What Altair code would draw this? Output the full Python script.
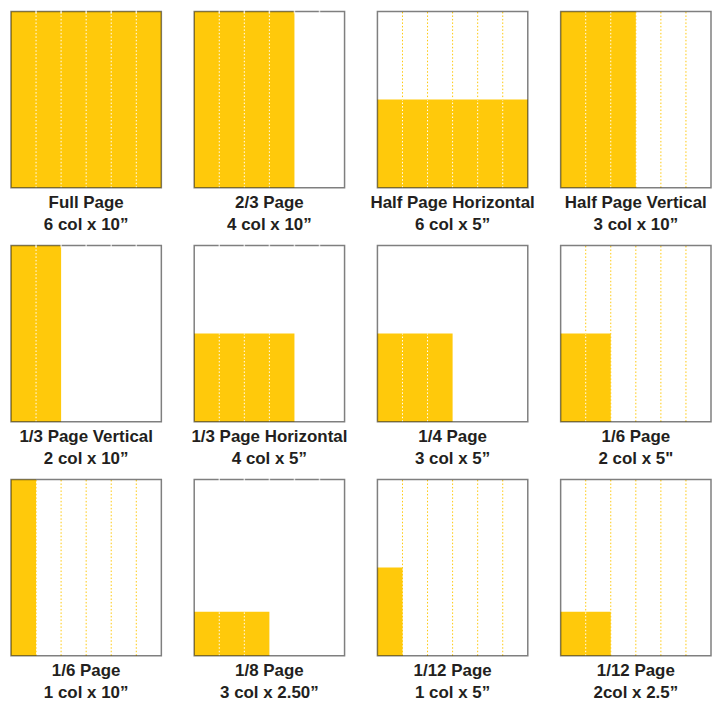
import altair as alt
import pandas as pd

# ---- data ----
titles = ["Full Page", "2/3 Page", "Half Page Horizontal", "Half Page Vertical",
          "1/3 Page Vertical", "1/3 Page Horizontal", "1/4 Page", "1/6 Page",
          "1/6 Page", "1/8 Page", "1/12 Page", "1/12 Page"]
sizes = ["6 col x 10\u201d", "4 col x 10\u201d", "6 col x 5\u201d", "3 col x 10\u201d",
         "2 col x 10\u201d", "4 col x 5\u201d", "3 col x 5\u201d", "2 col x 5\"",
         "1 col x 10\u201d", "3 col x 2.50\u201d", "1 col x 5\u201d", "2col x 2.5\u201d"]
ad_cols = [6, 4, 6, 3, 2, 4, 3, 2, 1, 3, 1, 2]
ad_inches = [10, 10, 5, 10, 10, 5, 5, 5, 10, 2.5, 5, 2.5]
guide_style = ["gaps", "gaps", "yellow", "yellow", "gaps", "gaps", "plain", "yellow",
               "yellow", "gaps", "yellow", "yellow"]
column_lines = [1, 2, 3, 4, 5]
page_cols = 6
page_inches = 10

YELLOW = "#FFC90B"
W, H = 151, 177

rows = []
for i in range(len(titles)):
    rows.append(dict(panel=i, kind="panel", label=titles[i] + "\n" + sizes[i],
                     x0=0, cols=ad_cols[i], y0=0, inches=ad_inches[i],
                     pw=page_cols, ph=page_inches, style=guide_style[i], c=0))
    for c in column_lines:
        rows.append(dict(panel=i, kind="line", label="", x0=0, cols=ad_cols[i], y0=0,
                         inches=ad_inches[i], pw=page_cols, ph=page_inches,
                         style=guide_style[i], c=c))
df = pd.DataFrame(rows)

xs = alt.Scale(domain=[0, page_cols], nice=False, zero=False)
ys = alt.Scale(domain=[0, page_inches], nice=False, zero=False)


def make_panel(i):
    base = alt.Chart(df).transform_filter(f"datum.panel == {i}")

    yellow_guides = base.transform_filter(
        "datum.kind == 'line' && datum.style == 'yellow'"
    ).mark_rule(color=YELLOW, strokeWidth=1, strokeDash=[1.5, 2]).encode(
        x=alt.X("c:Q", scale=xs, axis=None),
        y=alt.Y("y0:Q", scale=ys, axis=None),
        y2="ph:Q",
    )

    ad_rect = base.transform_filter("datum.kind == 'panel'").mark_rect(color=YELLOW).encode(
        x=alt.X("x0:Q", scale=xs, axis=None),
        x2="cols:Q",
        y=alt.Y("y0:Q", scale=ys, axis=None),
        y2="inches:Q",
    )

    white_guides = base.transform_filter(
        "datum.kind == 'line' && datum.c < datum.cols"
    ).mark_rule(color="white", strokeWidth=1, strokeDash=[1.5, 2]).encode(
        x=alt.X("c:Q", scale=xs, axis=None),
        y=alt.Y("y0:Q", scale=ys, axis=None),
        y2="inches:Q",
    )

    border = base.transform_filter("datum.kind == 'panel'").mark_rect(
        fill=None, stroke="black", strokeOpacity=0.5, strokeWidth=1.5
    ).encode(
        x=alt.X("x0:Q", scale=xs, axis=None),
        x2="pw:Q",
        y=alt.Y("y0:Q", scale=ys, axis=None),
        y2="ph:Q",
    )

    top_gaps = base.transform_filter(
        "datum.kind == 'line' && datum.style == 'gaps'"
    ).mark_tick(orient="vertical", color="white", thickness=1.5, size=4).encode(
        x=alt.X("c:Q", scale=xs, axis=None),
        y=alt.Y("ph:Q", scale=ys, axis=None),
    )

    labels = base.transform_filter("datum.kind == 'panel'").mark_text(
        font="Liberation Sans", fontWeight="bold", fontSize=17, color="#231F20",
        lineBreak="\n", lineHeight=22, baseline="alphabetic", align="center"
    ).encode(
        x=alt.datum(3, scale=xs),
        y=alt.value(H + 20),
        text="label:N",
    )

    return alt.layer(yellow_guides, ad_rect, white_guides, border, top_gaps, labels).properties(
        width=W, height=H
    )


chart = alt.concat(
    *[make_panel(i) for i in range(len(titles))],
    columns=4,
    spacing={"row": 58, "column": 33},
    bounds="flush",
).properties(
    padding={"left": 2, "top": 0, "right": 0, "bottom": 0}
).configure_view(stroke=None)

chart.save("out.html", embed_options={"renderer": "svg", "actions": False})
